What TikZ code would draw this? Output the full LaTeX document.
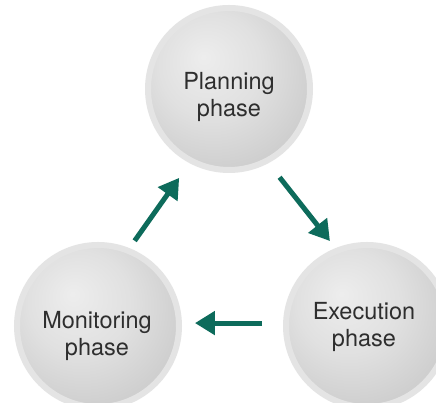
\documentclass[tikz,border=0pt]{standalone}
\usepackage{fontspec}
\setmainfont{TeX Gyre Heros}
\usetikzlibrary{arrows.meta,positioning,calc}
\definecolor{flow-teal}{HTML}{0D6B5B}
\definecolor{ring-gray}{HTML}{E4E4E4}
\pgfdeclareradialshading{phaseball}{\pgfpoint{-8bp}{10bp}}{%
  color(0bp)=(gray!14); color(16bp)=(gray!24); color(38bp)=(gray!46); color(60bp)=(gray!58)}

\begin{document}
\begin{tikzpicture}[x=1pt,y=1pt,
    phase/.style={circle,minimum size=162pt,inner sep=0pt,shading=phaseball,
                  draw=ring-gray,line width=6pt},
    phasetext/.style={align=center,font=\fontsize{23.5}{27}\selectfont,text=black!82},
    flow/.style={-{Triangle[length=20pt,width=23pt]},line width=5pt,flow-teal}]
  \useasboundingbox (0,0) rectangle (436,403);
  \fill[white] (0,0) rectangle (436,403);
  % the three phases
  \node[phase] (plan) at (229,314) {};
  \node[phase] (mon)  at (98,77)   {};
  \node[phase] (exe)  at (367,77)  {};
  \node[phasetext] (plan-t) at ([yshift=-8pt]plan.center) {Planning\\phase};
  \node[phasetext] (mon-t)  at ([shift={(-1pt,-10pt)}]mon.center) {Monitoring\\phase};
  \node[phasetext] (exe-t)  at ([shift={(-3pt,-1pt)}]exe.center) {Execution\\phase};
  % cycle
  \draw[flow,shorten <=9pt,shorten >=18pt] (mon.68) -- (plan.242);
  \draw[flow,shorten <=18pt,shorten >=9pt] (plan.298) -- (exe.112);
  \draw[flow,shorten <=21pt,shorten >=13pt] (exe.178) -- (mon.2);
\end{tikzpicture}
\end{document}
